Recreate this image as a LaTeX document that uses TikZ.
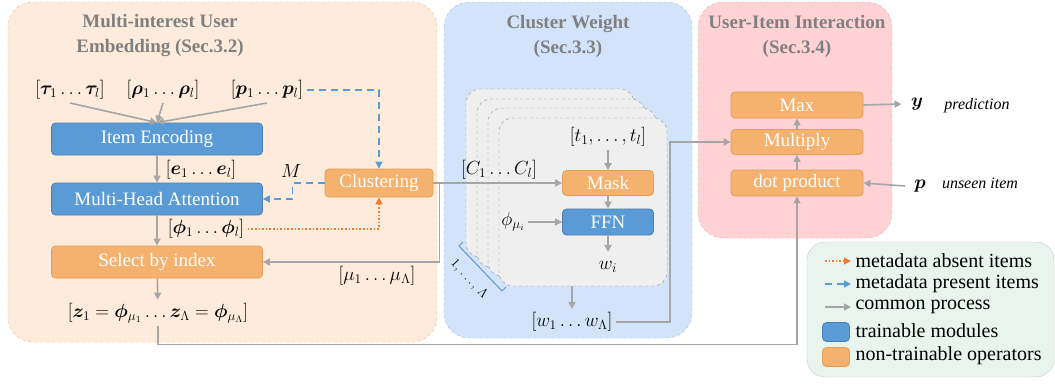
\RequirePackage{fix-cm}
\documentclass[tikz,border=0pt]{standalone}
\usepackage{amsmath}
\usepackage{amssymb}
\usepackage{bm}
\usepackage{fontspec}
\setmainfont{Liberation Serif}
\usepackage{xcolor}
\usepackage{tikz}
\usetikzlibrary{arrows.meta}

\definecolor{trainblue}{HTML}{5B9BD5}
\definecolor{trainedge}{HTML}{4A7FB5}
\definecolor{opfill}{HTML}{F4B26E}
\definecolor{opedge}{HTML}{E39D55}
\definecolor{arrgray}{HTML}{A6A6A6}
\definecolor{dashblue}{HTML}{5B9BD5}
\definecolor{dotorange}{HTML}{ED7D31}
\definecolor{titlegray}{HTML}{808080}
\definecolor{embfill}{HTML}{FDEBDC}
\definecolor{embedge}{HTML}{F4B183}
\definecolor{cwfill}{HTML}{D3E3FA}
\definecolor{cwedge}{HTML}{9DC3E6}
\definecolor{uifill}{HTML}{FFD2D6}
\definecolor{uiedge}{HTML}{F0A8AE}
\definecolor{legfill}{HTML}{E9F4EE}
\definecolor{legedge}{HTML}{C9C9C9}
\definecolor{cardfill}{HTML}{EFEFEF}
\definecolor{cardedge}{HTML}{8C8C8C}

\newcommand{\fsz}[1]{\fontsize{#1}{#1}\selectfont}

\begin{document}
\begin{tikzpicture}[x=1pt,y=-1pt,font=\fsz{19},
    trainbox/.style={draw=trainedge,fill=trainblue,text=white,rounded corners=4pt,line width=0.8pt,minimum height=32pt,inner sep=0pt},
    opbox/.style={draw=opedge,fill=opfill,text=white,rounded corners=4pt,line width=0.8pt,minimum height=32pt,inner sep=0pt},
    common/.style={draw=arrgray,line width=1.6pt,-{Triangle[length=7pt,width=7pt]}},
    present/.style={draw=dashblue,line width=1.6pt,dash pattern=on 7pt off 5pt,-{Triangle[length=7pt,width=7pt]}},
    absent/.style={draw=dotorange,line width=1.6pt,dash pattern=on 1.6pt off 2pt,-{Triangle[length=7pt,width=7pt]}},
    card/.style={draw=cardedge,dashed,fill=cardfill,rounded corners=14pt,minimum width=168pt,minimum height=168pt},
    sectitle/.style={font=\fontsize{19}{25}\selectfont\bfseries,text=titlegray,align=center}]
\useasboundingbox (0,0) rectangle (1055,383);

% panels
\draw[embedge,dashed,fill=embfill,rounded corners=25pt] (8,2) rectangle (437,342);
\draw[cwedge,dashed,fill=cwfill,rounded corners=25pt] (444,2) rectangle (692,338);
\draw[uiedge,dashed,fill=uifill,rounded corners=25pt] (698,2) rectangle (892,238);
\draw[legedge,fill=legfill,rounded corners=18pt] (807,242) rectangle (1054,377);

\node[sectitle] (embtitle) at (160,36) {Multi-interest User\\Embedding (Sec.3.2)};
\node[sectitle] (cwtitle) at (568,36) {Cluster Weight\\(Sec.3.3)};
\node[sectitle] (uititle) at (797,36) {User-Item Interaction\\(Sec.3.4)};

% multi-interest user embedding
\node (tau) at (70,90) {$[\bm{\tau}_1 \ldots \bm{\tau}_l]$};
\node (rho) at (163,90) {$[\bm{\rho}_1 \ldots \bm{\rho}_l]$};
\node (pin) at (267,90) {$[\bm{p}_1 \ldots \bm{p}_l]$};
\node[trainbox,minimum width=211pt] (ienc) at (157,139) {Item Encoding};
\node[trainbox,minimum width=211pt] (mha) at (157,199) {Multi-Head Attention};
\node[opbox,minimum width=211pt] (select) at (157,262) {Select by index};
\node[opbox,minimum width=108pt,minimum height=28pt] (clust) at (379,183) {Clustering};
\node (elab) at (201,170) {$[\bm{e}_1 \ldots \bm{e}_l]$};
\node (philab) at (206,229) {$[\bm{\phi}_1 \ldots \bm{\phi}_l]$};
\node (mlab) at (291,171) {$M$};
\node (mulab) at (377,276) {$[\mu_1 \ldots \mu_\Lambda]$};
\node (zlab) at (158,313) {$[\bm{z}_1 = \bm{\phi}_{\mu_1} \ldots \bm{z}_\Lambda = \bm{\phi}_{\mu_\Lambda}]$};

% cluster weight
\foreach \k/\cx/\cy in {1/550/173,2/561/183,3/572/192,4/583/202}
  \node[card] (card\k) at (\cx,\cy) {};
\node (clab) at (499,170) {$[C_1 \ldots C_l]$};
\node (tlab) at (608,137) {$[t_1, \ldots, t_l]$};
\node[opbox,minimum width=91pt,minimum height=25pt] (mask) at (608,183) {Mask};
\node[trainbox,minimum width=91pt,minimum height=26pt] (ffn) at (608,222) {FFN};
\node (phimu) at (513,222) {$\phi_{\mu_i}$};
\node (wi) at (608,267) {$w_i$};
\node[rotate=-47,font=\fsz{13},inner sep=0pt] (stack) at (469,279) {$1,\,\ldots,\,\Lambda$};
\draw[dashblue,line width=1pt] (463,242) -- (459,246) -- (502,291) -- (506,287);
\node (wlist) at (572,322) {$[w_1 \ldots w_\Lambda]$};

% user-item interaction
\node[opbox,minimum width=132pt,minimum height=26pt] (max) at (797,105) {Max};
\node[opbox,minimum width=132pt,minimum height=25pt] (mult) at (797,142) {Multiply};
\node[opbox,minimum width=132pt,minimum height=26pt] (dot) at (797,183) {dot product};
\node (yout) at (917,104) {$\bm{y}$};
\node[font=\fsz{16}\itshape] (ytext) at (977,106) {prediction};
\node (pnew) at (920,186) {$\bm{p}$};
\node[font=\fsz{16}\itshape] (ptext) at (980,183) {unseen item};

% connectors
\draw[common] (tau.south) -- (ienc.north);
\draw[common] (rho.south) -- (ienc.north);
\draw[common] (pin.south) -- (ienc.north);
\draw[common] (ienc) -- (mha);
\draw[common] (mha) -- (select);
\draw[common] (select) -- (zlab);
\draw[present] (pin.east) -| (clust.north);
\draw[present] (clust.west) -- ++(-32,0) |- (mha.east);
\draw[absent] (philab.east) -| (clust.south);
\draw[common] (clust.east) -- ++(6,0) |- (select.east);
\draw[common] (clust.east) -- (mask.west);
\draw[common] (tlab) -- (mask);
\draw[common] (mask) -- (ffn);
\draw[common] (phimu) -- (ffn);
\draw[common] (ffn) -- ([yshift=6pt]wi.north);
\draw[common] (card4.south -| wlist) -- (wlist);
\draw[common] (wlist.east) -- ++(54,0) |- (mult.west);
\draw[common] (zlab.south) -- ++(0,18) -| (dot.south);
\draw[common] (dot) -- (mult);
\draw[common] (mult) -- (max);
\draw[common] (max.east) -- ([xshift=-6pt]yout.west);
\draw[common] ([xshift=-6pt]pnew.west) -- (dot.east);

% legend
\foreach \r/\ry in {1/261,2/284,3/307}{
  \coordinate (la\r) at (825,\ry);
  \coordinate (lb\r) at (851,\ry);
}
\draw[absent,line width=1.2pt] (la1) -- (lb1);
\draw[present,line width=1.2pt] (la2) -- (lb2);
\draw[common,line width=1.2pt] (la3) -- (lb3);
\node[trainbox,minimum width=27pt,minimum height=19pt] (legtrain) at (836,332) {};
\node[opbox,minimum width=27pt,minimum height=19pt] (legop) at (836,357) {};
\node[anchor=west,font=\fsz{20}] (leg1) at (852,261) {metadata absent items};
\node[anchor=west,font=\fsz{20}] (leg2) at (852,284) {metadata present items};
\node[anchor=west,font=\fsz{20}] (leg3) at (852,307) {common process};
\node[anchor=west,font=\fsz{20}] (leg4) at (852,331) {trainable modules};
\node[anchor=west,font=\fsz{20}] (leg5) at (852,356) {non-trainable operators};
\end{tikzpicture}
\end{document}
